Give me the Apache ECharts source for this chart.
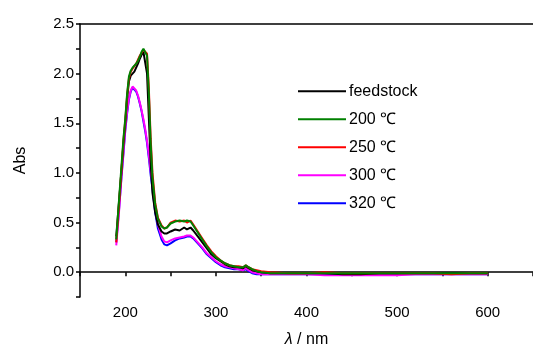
<!DOCTYPE html>
<html><head><meta charset="utf-8">
<script src="https://cdn.jsdelivr.net/npm/echarts@6/dist/echarts.min.js"></script>
<style>html,body{margin:0;padding:0;background:#fff}#c{width:533px;height:347px}</style>
</head><body><div id="c"></div>
<script>
const wavelengths = [190,193,196,198,200,202,204,206,208,210,212,214,216,218,220,222,224,226,228,230,233,236,240,243,246,250,255,260,265,268,272,275,280,285,290,295,300,305,310,315,320,325,330,333,336,340,345,350,360,380,400,420,440,460,480,500,520,540,560,580,600];
const feedstock = [0.36,0.70,1.05,1.30,1.50,1.75,1.92,1.98,2.00,2.02,2.06,2.10,2.15,2.19,2.22,2.21,2.00,1.55,1.10,0.80,0.60,0.48,0.41,0.39,0.39,0.41,0.43,0.42,0.45,0.43,0.45,0.42,0.36,0.30,0.24,0.18,0.14,0.11,0.08,0.06,0.05,0.05,0.04,0.06,0.04,0.02,0.01,0.00,-0.01,-0.01,-0.01,-0.01,-0.02,-0.02,-0.01,-0.01,-0.01,-0.01,-0.01,-0.01,-0.01];
const t200 = [0.33,0.72,1.10,1.35,1.55,1.80,1.97,2.03,2.06,2.08,2.10,2.13,2.17,2.22,2.25,2.26,2.18,1.80,1.30,0.95,0.68,0.54,0.46,0.44,0.45,0.49,0.51,0.52,0.51,0.52,0.51,0.47,0.40,0.33,0.26,0.20,0.15,0.12,0.09,0.07,0.06,0.05,0.05,0.07,0.05,0.03,0.01,0.00,-0.01,-0.01,-0.01,-0.01,-0.01,-0.01,-0.01,-0.01,-0.01,-0.01,-0.01,-0.01,-0.01];
const t250 = [0.30,0.68,1.06,1.33,1.53,1.78,1.95,2.02,2.05,2.07,2.10,2.14,2.18,2.21,2.24,2.25,2.20,1.85,1.35,1.00,0.70,0.55,0.47,0.44,0.45,0.50,0.52,0.51,0.52,0.50,0.52,0.48,0.41,0.34,0.27,0.21,0.16,0.12,0.09,0.07,0.06,0.06,0.05,0.07,0.05,0.03,0.02,0.01,0.00,-0.01,-0.01,0.00,-0.01,-0.01,-0.01,-0.01,-0.01,-0.01,-0.02,-0.01,-0.01];
const t300 = [0.27,0.60,1.00,1.22,1.45,1.62,1.75,1.83,1.87,1.86,1.83,1.78,1.71,1.63,1.54,1.44,1.32,1.18,1.02,0.88,0.64,0.48,0.36,0.31,0.30,0.32,0.34,0.35,0.36,0.37,0.37,0.35,0.30,0.25,0.19,0.15,0.11,0.08,0.06,0.05,0.04,0.03,0.02,0.04,0.02,0.00,-0.01,-0.02,-0.02,-0.02,-0.02,-0.03,-0.03,-0.03,-0.03,-0.03,-0.02,-0.02,-0.02,-0.02,-0.02];
const t320 = [0.30,0.62,0.98,1.20,1.43,1.60,1.74,1.82,1.86,1.85,1.82,1.77,1.70,1.62,1.52,1.42,1.30,1.15,0.98,0.84,0.60,0.44,0.33,0.28,0.27,0.29,0.32,0.34,0.35,0.36,0.36,0.34,0.29,0.24,0.18,0.14,0.10,0.07,0.05,0.04,0.03,0.03,0.02,0.03,0.01,-0.01,-0.02,-0.02,-0.02,-0.02,-0.02,-0.02,-0.02,-0.02,-0.02,-0.02,-0.02,-0.02,-0.02,-0.02,-0.02];
const seriesNames = ['feedstock','200 \u2103','250 \u2103','300 \u2103','320 \u2103'];
const seriesColors = ['#000000','#008000','#ff0000','#ff00ff','#0000ff'];
const seriesValues = [feedstock,t200,t250,t300,t320];
const xTicks = [200,300,400,500,600];
const yTicks = [0.0,0.5,1.0,1.5,2.0,2.5];

const font = 'Liberation Sans, Arial, sans-serif';
const chart = echarts.init(document.getElementById('c'));
const order = [4,3,0,2,1];
const series = order.map(i => ({
  name: seriesNames[i], type: 'line', showSymbol: false, symbol: 'none',
  lineStyle: {width: 2, color: seriesColors[i]}, itemStyle: {color: seriesColors[i]},
  data: wavelengths.map((w, k) => [w, seriesValues[i][k]]), z: 2 + order.indexOf(i)
}));
chart.setOption({
  animation: false,
  grid: {left: 80, right: 0, top: 24, bottom: 50, containLabel: false, outerBoundsMode: 'none'},
  legend: {
    data: seriesNames, orient: 'vertical', left: 293, top: 77, itemGap: 9.5,
    itemWidth: 48, itemHeight: 18, icon: 'path://M0,9 L48,9 L48,11 L0,11 Z',
    textStyle: {fontFamily: font, fontSize: 16, color: '#000', padding: [0,0,0,-2], lineHeight: 18.5},
    itemStyle: {borderWidth: 0}
  },
  xAxis: [{
    type: 'value', min: 150, max: 650, interval: 50,
    name: '{i|\u03bb} / nm', nameLocation: 'middle', nameGap: 35,
    nameTextStyle: {fontFamily: font, fontSize: 16, color: '#000', rich: {i: {fontStyle: 'italic', fontFamily: font, fontSize: 16}}},
    axisLine: {lineStyle: {color: '#000', width: 1.5}},
    axisTick: {inside: false, length: 4, lineStyle: {color: '#000', width: 1.5}},
    axisLabel: {fontFamily: font, fontSize: 15, color: '#000', margin: 8,
      formatter: v => xTicks.includes(v) ? String(v) : ''},
    splitLine: {show: false}
  }, {
    type: 'value', position: 'top', min: 150, max: 650,
    axisLine: {show: true, lineStyle: {color: '#000', width: 1.5}},
    axisTick: {show: false}, axisLabel: {show: false}, splitLine: {show: false}
  }],
  yAxis: {
    type: 'value', min: -0.25, max: 2.5, interval: 0.25,
    name: 'Abs', nameLocation: 'middle', nameGap: 51, nameRotate: 90,
    nameTextStyle: {fontFamily: font, fontSize: 16, color: '#000'},
    axisLine: {show: true, lineStyle: {color: '#000', width: 1.5}},
    axisTick: {inside: false, length: 4, lineStyle: {color: '#000', width: 1.5}},
    axisLabel: {fontFamily: font, fontSize: 15, color: '#000', margin: 6,
      formatter: v => { const m = yTicks.find(t => Math.abs(t - v) < 1e-6); return m !== undefined ? m.toFixed(1) : ''; }},
    splitLine: {show: false}
  },
  series: series
});
</script></body></html>
